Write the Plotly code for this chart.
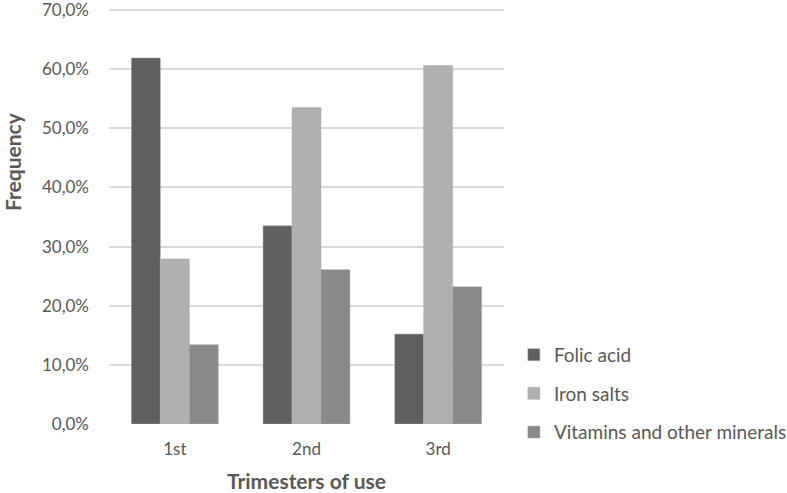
import plotly.graph_objects as go

categories = ["1st", "2nd", "3rd"]
folic_acid = [0.619, 0.335, 0.152]
iron_salts = [0.279, 0.535, 0.606]
vitamins = [0.134, 0.261, 0.232]
series_names = ["Folic acid", "Iron salts", "Vitamins and other minerals"]
colors = ["#5f5f5f", "#b0b0b0", "#898989"]
y_ticks = [0, 0.1, 0.2, 0.3, 0.4, 0.5, 0.6, 0.7]

FONT = "Lato"
TXT = "#595959"

fig = go.Figure()
for i, (name, vals) in enumerate(zip(series_names, [folic_acid, iron_salts, vitamins])):
    fig.add_trace(go.Bar(
        x=categories, y=vals, name=name,
        marker=dict(color=colors[i], line=dict(color="#a8a8a8", width=0.5)),
        legendgroup=f"g{i}",
    ))

L, R, T, B = 109, 283, 8, 69
pw, ph = 787 - L - R, 493 - T - B
px_per_unit = 414 / 0.7
y_top = 0.7 + 2 / px_per_unit

fig.update_layout(
    width=787, height=493,
    margin=dict(l=L, r=R, t=T, b=B, autoexpand=False),
    paper_bgcolor="white", plot_bgcolor="white",
    barmode="group", bargap=0.34, bargroupgap=0,
    separators=",.",
    font=dict(family=FONT, color=TXT, size=17),
    showlegend=True,
    legend=dict(
        x=1.025, xanchor="left", y=88.2 / ph, yanchor="top",
        font=dict(family=FONT, size=19, color=TXT),
        tracegroupgap=11, itemwidth=30,
        bgcolor="rgba(0,0,0,0)",
    ),
    xaxis=dict(
        automargin=False,
        showgrid=False, showline=False, ticks="",
        tickfont=dict(size=17, color=TXT),
        ticklabelstandoff=13,
        title=dict(text="<b>Trimesters of use</b>", font=dict(size=21, color=TXT), standoff=16),
    ),
    yaxis=dict(
        automargin=False,
        range=[0, y_top], tickmode="array", tickvals=y_ticks, tickformat=".1%",
        showgrid=True, gridcolor="#d9d9d9", gridwidth=1.5,
        zeroline=False, showline=False, ticks="",
        tickfont=dict(size=17, color=TXT),
        ticklabelstandoff=19, ticklabeloverflow="allow",
    ),
)

fig.add_annotation(
    text="<b>Frequency</b>", x=(12 - L) / pw, y=(424 - 162) / ph,
    xref="paper", yref="paper", xanchor="center", yanchor="middle",
    showarrow=False, textangle=-90, font=dict(size=21, color=TXT, family=FONT),
)

fig.write_html("out.html", config={"displayModeBar": False},
               post_script="document.body.style.margin='0';")
